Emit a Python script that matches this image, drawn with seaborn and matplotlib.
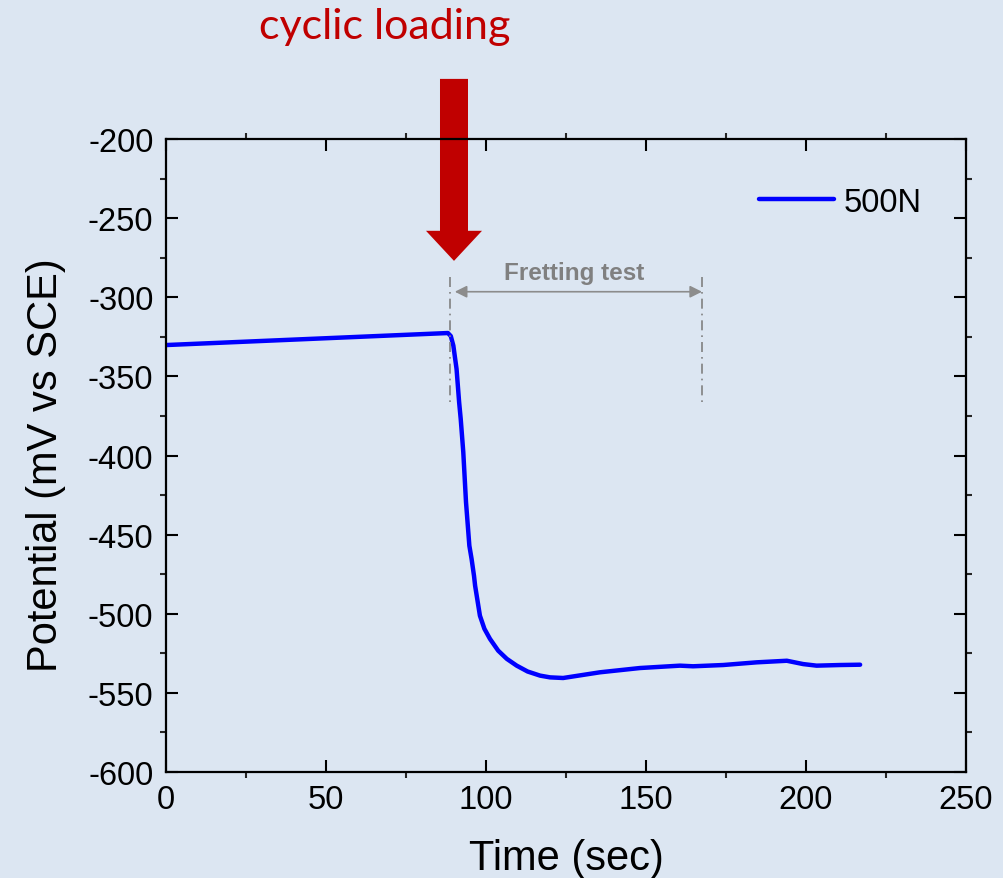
import numpy as np
import pandas as pd
import matplotlib
matplotlib.use("Agg")
import matplotlib.pyplot as plt
from matplotlib.patches import FancyArrow
from matplotlib.ticker import MultipleLocator
import seaborn as sns

# donnees (temps en s, potentiel en mV vs SCE)
time_s = [0.0, 88.1, 89.0, 89.8, 90.8, 91.6, 92.1, 92.9, 93.75, 94.8, 95.5,
          96.25, 96.6, 98.1, 99.5, 101.25, 103.8, 106.5, 109.6, 113.0, 116.9,
          120.0, 124.1, 135.6, 148.1, 160.6, 164.7, 174.1, 184.6, 194.0,
          199.1, 203.3, 210.6, 216.9]
potential = [-330.2, -322.6, -324.5, -330.6, -345.3, -366.2, -376.9, -397.8,
             -429.4, -457.0, -465.4, -476.0, -482.3, -501.2, -509.5, -515.9,
             -523.3, -528.5, -532.8, -536.5, -539.1, -540.2, -540.6, -537.0,
             -534.3, -532.8, -533.2, -532.4, -530.7, -529.7, -531.8, -532.8,
             -532.4, -532.2]
series_name = "500N"

# annotations
load_t = 90.0          # debut du chargement cyclique
fret_start = 88.75
fret_end = 167.5

BG = "#dce6f2"
sns.set_theme(style="ticks")
plt.rcParams["font.family"] = ["Liberation Sans", "DejaVu Sans"]
plt.rcParams["axes.unicode_minus"] = False
plt.rcParams["text.color"] = "black"
plt.rcParams["axes.labelcolor"] = "black"

df = pd.DataFrame({"t": time_s, "E": potential, "load": series_name})

fig = plt.figure(figsize=(10.04, 8.79), dpi=100, facecolor=BG)
ax = fig.add_axes([0.1653, 0.1206, 0.7969, 0.7201], facecolor=BG)
sns.lineplot(data=df, x="t", y="E", hue="load", palette=["#0000ff"], lw=3.2, ax=ax)

ax.set_xlim(0, 250); ax.set_ylim(-600, -200)
ax.xaxis.set_major_locator(MultipleLocator(50)); ax.xaxis.set_minor_locator(MultipleLocator(25))
ax.yaxis.set_major_locator(MultipleLocator(50)); ax.yaxis.set_minor_locator(MultipleLocator(25))
for s in ax.spines.values():
    s.set_linewidth(1.6); s.set_color("black")
ax.tick_params(which="major", direction="in", length=8.5, width=1.5, labelsize=23.5,
               top=True, right=True, pad=9, colors="black")
ax.tick_params(which="minor", direction="out", length=4.5, width=1.5, top=True, right=True)
ax.set_xlabel("Time (sec)", fontsize=30, labelpad=16)
ax.set_ylabel("Potential (mV vs SCE)", fontsize=30)
ax.yaxis.set_label_coords(-0.125, 0.487)

leg = ax.legend(loc="upper right", bbox_to_anchor=(0.981, 0.971), frameon=False,
                fontsize=23.5, handlelength=2.3, handletextpad=0.3)
leg.get_lines()[0].set_linewidth(3.2)

# zone d'essai de fretting
for xv in (fret_start, fret_end):
    ax.plot([xv, xv], [-287, -368], color="#808080", lw=1.2, ls="-.", dashes=(6, 3, 1, 3))
ax.annotate("", xy=(fret_end, -296.5), xytext=(fret_start + 1.5, -296.5),
            arrowprops=dict(arrowstyle="<|-|>", color="#8c8c8c", lw=1.2,
                            mutation_scale=18, shrinkA=0, shrinkB=0))
ax.text((fret_start + fret_end) / 2 - 0.5, -284.5, "Fretting test", color="#808080",
        fontsize=17.5, fontweight="bold", ha="center", va="center")

# fleche rouge du chargement cyclique
ax.add_patch(FancyArrow(load_t, -162, 0, -115, width=8.75, head_width=17.5, head_length=19,
                        length_includes_head=True, color="#c00000", clip_on=False, lw=0))
fig.text(385 / 1004, 1 - 27 / 879, "cyclic loading", color="#c00000", fontsize=31,
         family=["Lato", "DejaVu Sans"], ha="center", va="center")

fig.savefig("out.png", dpi=100, facecolor=BG)
